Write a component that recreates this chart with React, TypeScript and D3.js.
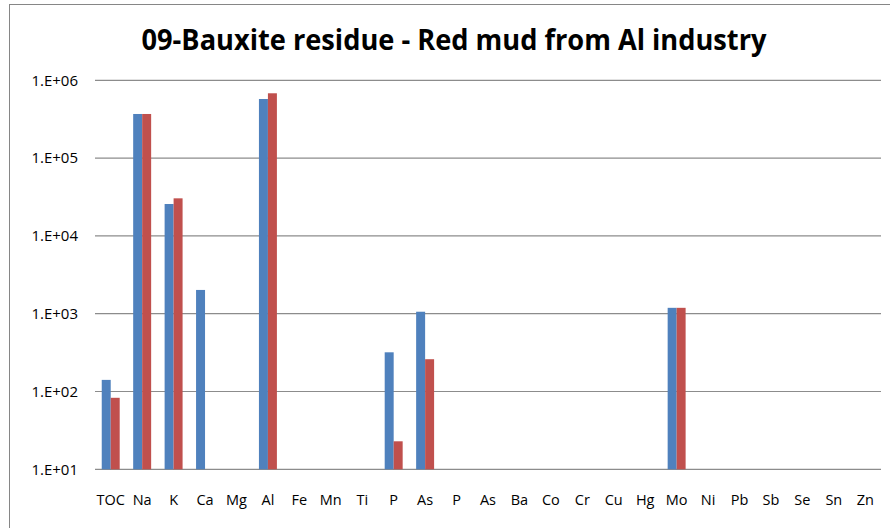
import React from "react";
import * as d3 from "d3";

const categories = ["TOC", "Na", "K", "Ca", "Mg", "Al", "Fe", "Mn", "Ti", "P", "As", "P", "As", "Ba", "Co", "Cr", "Cu", "Hg", "Mo", "Ni", "Pb", "Sb", "Se", "Sn", "Zn"];
const seriesA: (number | null)[] = [141, 369000, 25700, 2020, null, 575000, null, null, null, 319, 1060, null, null, null, null, null, null, null, 1190, null, null, null, null, null, null];
const seriesB: (number | null)[] = [83, 369000, 30400, null, null, 681000, null, null, null, 22.9, 260, null, null, null, null, null, null, null, 1190, null, null, null, null, null, null];
const yTicks = [1e1, 1e2, 1e3, 1e4, 1e5, 1e6];
const yTickLabels = ["1.E+01", "1.E+02", "1.E+03", "1.E+04", "1.E+05", "1.E+06"];
const title = "09-Bauxite residue - Red mud from Al industry";

const width = 890;
const height = 528;
const margin = { top: 80.3, right: 9, bottom: 58.7, left: 95 };
const font = "'Open Sans', 'Liberation Sans', sans-serif";

const App = () => {
  const x = d3
    .scaleBand<number>()
    .domain(categories.map((_, i) => i))
    .range([margin.left, width - margin.right])
    .padding(0);

  const y = d3
    .scaleLog()
    .domain([1e1, 1e6])
    .range([height - margin.bottom, margin.top]);

  const bw = x.bandwidth();
  const barW = bw / 3.5;
  const gap = barW * 0.75;

  const series = [
    { values: seriesA, color: "#4F81BD", offset: 0 },
    { values: seriesB, color: "#C0504D", offset: 1 },
  ];

  return (
    <svg width={width} height={height} style={{ position: "absolute", left: 0, top: 0, background: "#fff" }}>
      <rect x={9.5} y={4.5} width={width} height={height} fill="#fff" stroke="#868686" strokeWidth={1} />
      <text
        x={454}
        y={50}
        textAnchor="middle"
        fontFamily={font}
        fontWeight="bold"
        fontSize={28}
        textLength={625}
        lengthAdjust="spacingAndGlyphs"
        fill="#000"
      >
        {title}
      </text>

      {yTicks.map((t, i) => (
        <g key={t}>
          <line
            x1={margin.left}
            x2={width - margin.right}
            y1={y(t)}
            y2={y(t)}
            stroke="#8c8c8c"
            strokeWidth={1.2}
          />
          <text
            x={78}
            y={y(t)}
            dy="0.35em"
            textAnchor="end"
            fontFamily={font}
            fontSize={15}
            fill="#000"
          >
            {yTickLabels[i]}
          </text>
        </g>
      ))}

      {series.map((s) =>
        s.values.map((v, i) =>
          v == null ? null : (
            <rect
              key={`${s.offset}-${i}`}
              x={(x(i) as number) + gap + s.offset * barW}
              y={y(v)}
              width={barW}
              height={y(1e1) - y(v)}
              fill={s.color}
            />
          )
        )
      )}

      {categories.map((c, i) => (
        <text
          key={i}
          x={(x(i) as number) + bw / 2}
          y={500}
          dy="0.35em"
          textAnchor="middle"
          fontFamily={font}
          fontSize={14.5}
          fill="#000"
        >
          {c}
        </text>
      ))}
    </svg>
  );
};

export default App;
